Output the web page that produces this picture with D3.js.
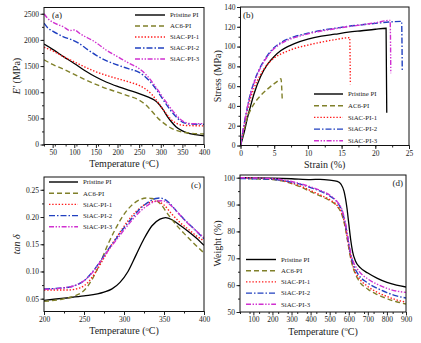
<!DOCTYPE html>
<html>
<head>
<meta charset="utf-8">
<script src="https://cdn.jsdelivr.net/npm/d3@7"></script>
<style>
  html, body { margin: 0; padding: 0; background: #fff; }
  svg { display: block; }
</style>
</head>
<body>
<div id="chart"></div>
<script>
// ── Series names + styles ─────────────────────
const SERIES = ["Pristine PI", "AC6-PI", "SiAC-PI-1", "SiAC-PI-2", "SiAC-PI-3"];
const COLORS = ["#000000", "#80802a", "#ff1a1a", "#2040c0", "#d030d0"];
const DASHES = [null, "5,3", "1.4,1.8", "6,2,1.5,2", "5,1.6,1.4,1.6,1.4,1.6"];

// ── (a) storage modulus vs temperature ─────────
const A_PRISTINE = [[30,1920],[50,1820],[75,1680],[100,1550],[125,1410],[150,1290],[175,1190],[200,1110],[225,1040],[250,975],[270,910],[285,850],[295,780],[305,670],[315,540],[325,430],[335,340],[350,260],[365,215],[380,190],[400,165]];
const A_AC6 = [[30,1620],[50,1530],[75,1440],[100,1340],[125,1240],[150,1150],[175,1070],[200,1000],[225,930],[250,850],[265,760],[280,630],[295,490],[310,390],[325,310],[340,260],[355,230],[370,215],[385,205],[400,200]];
const A_SIAC1 = [[30,1860],[50,1790],[75,1680],[100,1580],[125,1480],[150,1390],[175,1320],[200,1260],[225,1200],[250,1130],[265,1060],[280,950],[295,790],[310,620],[325,470],[340,390],[355,365],[375,360],[400,355]];
const A_SIAC2 = [[30,2320],[40,2220],[50,2170],[75,2060],[95,2000],[110,1940],[125,1850],[150,1710],[175,1600],[200,1520],[225,1450],[250,1380],[270,1250],[290,1050],[310,800],[330,580],[350,430],[370,390],[400,385]];
const A_SIAC3 = [[30,2500],[40,2400],[50,2340],[75,2250],[90,2180],[100,2190],[115,2110],[150,1950],[175,1800],[200,1680],[225,1560],[250,1450],[270,1300],[290,1080],[310,840],[330,620],[350,450],[370,400],[400,400]];

// ── (b) stress vs strain ──────────────────────
const B_PRISTINE = [[0,0],[0.5,12],[1,27],[1.5,40],[2,52],[3,70],[4,82],[5,90],[6,96],[7,100],[8,103],[10,107.5],[12,110.5],[14,112.5],[16,114.5],[18,116],[20,117.5],[21.6,118.5],[21.7,33]];
const B_AC6 = [[0,0],[0.5,15],[1,28],[1.5,36],[2,42],[3,50.5],[4,57],[5,62.5],[5.8,66.5],[6,67.5],[6.2,45]];
const B_SIAC1 = [[0,0],[0.5,18],[1,35],[1.5,48],[2,58],[3,72],[4,82],[5,88.5],[6,92.5],[7,95.5],[8,98],[10,101.5],[12,104.5],[14,107],[16.2,109],[16.3,62]];
const B_SIAC2 = [[0,0],[0.5,20],[1,38],[1.5,53],[2,64],[3,80],[4,91],[5,99],[6,104],[7,107.5],[8,110],[10,113.5],[12,116.5],[14,118.5],[16,120.5],[18,122],[20,123.5],[22,124.8],[23.9,125.5],[24,75]];
const B_SIAC3 = [[0,0],[0.5,20],[1,38],[1.5,52],[2,63],[3,79],[4,90],[5,98],[6,103],[7,106.5],[8,109],[10,112.8],[12,115.8],[14,118],[16,120.2],[18,122],[20,124],[22.2,126.5],[22.3,73]];

// ── (c) tan delta vs temperature ──────────────
const C_PRISTINE = [[200,0.047],[225,0.051],[250,0.055],[275,0.062],[285,0.068],[295,0.08],[305,0.1],[315,0.13],[325,0.16],[335,0.184],[345,0.196],[352,0.199],[360,0.195],[370,0.185],[380,0.174],[390,0.162],[400,0.148]];
const C_AC6 = [[200,0.045],[225,0.05],[240,0.056],[250,0.065],[260,0.085],[270,0.115],[280,0.15],[290,0.18],[300,0.205],[310,0.222],[320,0.232],[328,0.235],[335,0.234],[345,0.225],[355,0.205],[365,0.186],[375,0.17],[385,0.155],[400,0.134]];
const C_SIAC1 = [[200,0.066],[230,0.066],[245,0.07],[255,0.08],[265,0.1],[275,0.125],[285,0.15],[295,0.172],[305,0.193],[315,0.21],[325,0.222],[335,0.228],[340,0.229],[350,0.222],[360,0.205],[370,0.19],[380,0.178],[390,0.166],[400,0.156]];
const C_SIAC2 = [[200,0.068],[225,0.07],[240,0.075],[250,0.083],[260,0.098],[270,0.118],[280,0.14],[290,0.16],[300,0.18],[310,0.198],[320,0.215],[330,0.227],[340,0.234],[345,0.235],[355,0.228],[365,0.212],[375,0.196],[385,0.182],[400,0.16]];
const C_SIAC3 = [[200,0.067],[225,0.07],[240,0.075],[250,0.083],[260,0.097],[270,0.117],[280,0.138],[290,0.157],[300,0.176],[310,0.194],[320,0.21],[330,0.222],[340,0.229],[348,0.23],[358,0.222],[368,0.207],[380,0.188],[390,0.175],[400,0.162]];

// ── (d) TGA weight vs temperature ─────────────
const D_PRISTINE = [[30,100],[100,99.9],[200,99.8],[300,99.6],[400,99.3],[450,99.4],[500,99.1],[540,98.6],[560,97.5],[575,95],[590,89],[600,83],[610,77],[620,72.5],[635,69],[660,66.5],[700,64.5],[750,62.5],[800,61],[850,60],[900,59.3]];
const D_AC6 = [[30,99.8],[100,99.6],[200,99.3],[250,98.8],[300,97.8],[350,96.5],[400,94.8],[450,93.2],[500,91.5],[540,89.3],[565,86],[580,82],[595,76],[610,70],[625,66],[650,62],[700,58.5],[750,56.5],[800,55],[850,53.8],[900,53]];
const D_SIAC1 = [[30,100],[100,99.8],[200,99.5],[250,99],[300,98],[350,96.8],[400,95.2],[450,93.6],[500,91.8],[540,89.6],[565,86.5],[580,82.5],[595,76.5],[610,70.5],[625,66.5],[650,63],[700,59.5],[750,57.3],[800,55.8],[850,54.5],[900,53.7]];
const D_SIAC2 = [[30,99.7],[100,99.6],[200,99.4],[250,99],[300,98.3],[350,97.5],[400,96.3],[450,95],[500,93.2],[540,90.8],[565,87.5],[580,83.5],[595,77.5],[610,71.5],[625,67.5],[650,64],[700,60.8],[750,58.8],[800,57.2],[850,56],[900,55.2]];
const D_SIAC3 = [[30,100],[100,99.9],[200,99.7],[250,99.3],[300,98.6],[350,97.7],[400,96.6],[450,95.3],[500,93.5],[540,91],[565,88],[580,84],[595,78],[610,72],[625,68.5],[650,65.5],[700,62.3],[750,60.3],[800,58.8],[850,57.8],[900,57.3]];

// ── Tick values ───────────────────────────────
const A_XTICKS = [50,100,150,200,250,300,350,400];
const A_YTICKS = [0,500,1000,1500,2000,2500];
const B_XTICKS = [0,5,10,15,20,25];
const B_YTICKS = [0,20,40,60,80,100,120,140];
const C_XTICKS = [200,250,300,350,400];
const C_YTICKS = [0.05,0.10,0.15,0.20,0.25];
const D_XTICKS = [100,200,300,400,500,600,700,800,900];
const D_YTICKS = [50,60,70,80,90,100];

const FONT = "'Liberation Serif','Times New Roman',serif";
const W = 421, H = 343;

const svg = d3.select("#chart").append("svg")
  .attr("width", W).attr("height", H);

function drawPanel(p) {
  const x = d3.scaleLinear().domain(p.xDomain).range([p.left, p.right]);
  const y = d3.scaleLinear().domain(p.yDomain).range([p.bottom, p.top]);
  const g = svg.append("g");

  // minor ticks
  const xMinor = d3.range(p.xDomain[0], p.xDomain[1] + 1e-9, p.xMinor).filter(v => v >= p.xDomain[0]);
  const yMinor = d3.range(p.yMinorStart, p.yDomain[1] + 1e-9, p.yMinor).filter(v => v >= p.yDomain[0]);
  g.append("g").attr("transform", `translate(0,${p.bottom})`)
    .call(d3.axisBottom(x).tickValues(xMinor).tickSize(2).tickFormat(""))
    .call(a => a.select(".domain").remove());
  g.append("g").attr("transform", `translate(${p.left},0)`)
    .call(d3.axisLeft(y).tickValues(yMinor).tickSize(2).tickFormat(""))
    .call(a => a.select(".domain").remove());

  // major axes
  const xa = g.append("g").attr("transform", `translate(0,${p.bottom})`)
    .call(d3.axisBottom(x).tickValues(p.xTicks).tickSize(3.5).tickPadding(1.5).tickFormat(p.xFmt || d3.format("d")));
  const ya = g.append("g").attr("transform", `translate(${p.left},0)`)
    .call(d3.axisLeft(y).tickValues(p.yTicks).tickSize(3.5).tickPadding(1.5).tickFormat(p.yFmt || d3.format("d")));
  [xa, ya].forEach(a => {
    a.select(".domain").remove();
    a.selectAll("text").attr("font-family", FONT).attr("font-size", "7.5px").attr("fill", "#222");
  });
  svg.selectAll(".tick line").attr("stroke", "#222");

  // series lines
  const line = d3.line().x(d => x(d[0])).y(d => y(d[1])).curve(d3.curveMonotoneX);
  const clipId = "clip-" + p.name;
  svg.append("clipPath").attr("id", clipId).append("rect")
    .attr("x", p.left).attr("y", p.top).attr("width", p.right - p.left).attr("height", p.bottom - p.top);
  const lines = g.append("g").attr("clip-path", `url(#${clipId})`);
  p.data.forEach((s, i) => {
    lines.append("path").datum(s)
      .attr("fill", "none")
      .attr("stroke", COLORS[i])
      .attr("stroke-width", i === 0 ? 1.3 : 1.4)
      .attr("stroke-dasharray", DASHES[i])
      .attr("d", line);
  });

  // frame
  g.append("rect")
    .attr("x", p.left).attr("y", p.top)
    .attr("width", p.right - p.left).attr("height", p.bottom - p.top)
    .attr("fill", "none").attr("stroke", "#111").attr("stroke-width", 1);

  // axis titles
  const xt = g.append("text")
    .attr("x", (p.left + p.right) / 2).attr("y", p.bottom + 22.5)
    .attr("text-anchor", "middle")
    .attr("font-family", FONT).attr("font-size", "10px").attr("fill", "#222");
  p.xTitle(xt);
  const yt = g.append("text")
    .attr("transform", `translate(${p.yTitleX},${(p.top + p.bottom) / 2}) rotate(-90)`)
    .attr("text-anchor", "middle")
    .attr("font-family", FONT).attr("font-size", "10px").attr("fill", "#222");
  p.yTitle(yt);

  // panel tag
  g.append("text")
    .attr("x", p.tag[0]).attr("y", p.tag[1])
    .attr("text-anchor", p.tag[2] || "start")
    .attr("font-family", FONT).attr("font-size", "9px").attr("fill", "#222")
    .text(p.tagText);

  // legend
  const lg = g.append("g");
  SERIES.forEach((name, i) => {
    const ly = p.legend.y + i * p.legend.dy;
    lg.append("line")
      .attr("x1", p.legend.x).attr("x2", p.legend.x + p.legend.len)
      .attr("y1", ly).attr("y2", ly)
      .attr("stroke", COLORS[i]).attr("stroke-width", 1.4)
      .attr("stroke-dasharray", DASHES[i]);
    lg.append("text")
      .attr("x", p.legend.x + p.legend.len + 5).attr("y", ly + 2.3)
      .attr("font-family", FONT).attr("font-size", "6.8px").attr("fill", "#222")
      .text(name);
  });
}

const tempTitle = t => {
  t.append("tspan").text("Temperature (");
  t.append("tspan").attr("font-size", "6.5px").attr("dy", "-3.5").text("o");
  t.append("tspan").attr("dy", "3.5").text("C)");
};

drawPanel({
  name: "a", left: 44, right: 204, top: 7.5, bottom: 144.5,
  xDomain: [30, 400], yDomain: [0, 2620],
  xTicks: A_XTICKS, yTicks: A_YTICKS, xMinor: 25, yMinor: 250, yMinorStart: 0,
  data: [A_PRISTINE, A_AC6, A_SIAC1, A_SIAC2, A_SIAC3],
  xTitle: tempTitle,
  yTitle: t => {
    t.append("tspan").attr("font-style", "italic").text("E'");
    t.append("tspan").text(" (MPa)");
  },
  yTitleX: 20,
  tag: [52, 18], tagText: "(a)",
  legend: { x: 135, y: 15, dy: 11, len: 30 }
});

drawPanel({
  name: "b", left: 240.5, right: 409, top: 7, bottom: 145.5,
  xDomain: [0, 25], yDomain: [0, 140],
  xTicks: B_XTICKS, yTicks: B_YTICKS, xMinor: 2.5, yMinor: 10, yMinorStart: 0,
  data: [B_PRISTINE, B_AC6, B_SIAC1, B_SIAC2, B_SIAC3],
  xTitle: t => t.text("Strain (%)"),
  yTitle: t => t.text("Stress (MPa)"),
  yTitleX: 221,
  tag: [243, 18], tagText: "(b)",
  legend: { x: 314, y: 94, dy: 11.7, len: 29 }
});

drawPanel({
  name: "c", left: 44, right: 204, top: 177, bottom: 311.5,
  xDomain: [200, 400], yDomain: [0.0265, 0.2735],
  xTicks: C_XTICKS, yTicks: C_YTICKS, xMinor: 25, yMinor: 0.025, yMinorStart: 0.025,
  yFmt: d3.format(".2f"),
  data: [C_PRISTINE, C_AC6, C_SIAC1, C_SIAC2, C_SIAC3],
  xTitle: tempTitle,
  yTitle: t => t.attr("font-style", "italic").text("tan δ"),
  yTitleX: 20,
  tag: [201, 188, "end"], tagText: "(c)",
  legend: { x: 49, y: 182, dy: 11.2, len: 29 }
});

drawPanel({
  name: "d", left: 240, right: 406, top: 175, bottom: 312,
  xDomain: [30, 900], yDomain: [50, 101],
  xTicks: D_XTICKS, yTicks: D_YTICKS, xMinor: 50, yMinor: 5, yMinorStart: 50,
  data: [D_PRISTINE, D_AC6, D_SIAC1, D_SIAC2, D_SIAC3],
  xTitle: tempTitle,
  yTitle: t => t.text("Weight (%)"),
  yTitleX: 221,
  tag: [403, 186, "end"], tagText: "(d)",
  legend: { x: 246, y: 259.5, dy: 11.2, len: 30 }
});
</script>
</body>
</html>
